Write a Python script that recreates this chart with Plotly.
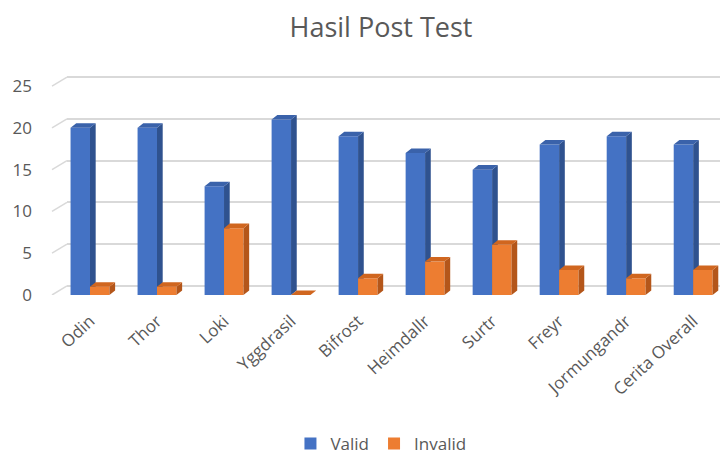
import plotly.graph_objects as go

categories = ["Odin", "Thor", "Loki", "Yggdrasil", "Bifrost", "Heimdallr",
              "Surtr", "Freyr", "Jormungandr", "Cerita Overall"]
valid = [20, 20, 13, 21, 19, 17, 15, 18, 19, 18]
invalid = [1, 1, 8, 0, 2, 4, 6, 3, 2, 3]
ytick_vals = [0, 5, 10, 15, 20, 25]

W = 0.29        # bar width in category units
DX = 0.085      # depth offset x (category units)
DY = 0.54       # depth offset y (value units)
SHIFT = 1.08    # back wall offset (value units)
YMAX = 26.92

idx = list(range(len(categories)))

fig = go.Figure()

fig.add_trace(go.Scatter(x=[0], y=[0], xaxis="x", yaxis="y", mode="markers",
                         marker=dict(opacity=0), showlegend=False, hoverinfo="skip"))


def faces(centers, vals):
    sx, sy, tx, ty = [], [], [], []
    for c, v in zip(centers, vals):
        xl, xr = c - W / 2, c + W / 2
        sx += [xr, xr + DX, xr + DX, xr, xr, None]
        sy += [0, DY, v + DY, v, 0, None]
        tx += [xl, xl + DX, xr + DX, xr, xl, None]
        ty += [v, v + DY, v + DY, v, v, None]
    return sx, sy, tx, ty


series = [
    ("Valid", valid, -W / 2, "#4472C4", "#2F528F", "#3A62AA", "y2"),
    ("Invalid", invalid, W / 2, "#ED7D31", "#B4561A", "#D0661F", "y3"),
]
for name, vals, off, cf, cs, ct, ya in series:
    centers = [i + off for i in idx]
    fig.add_trace(go.Bar(x=centers, y=vals, width=W, name=name,
                         marker=dict(color=cf, line=dict(width=0)),
                         xaxis="x", yaxis=ya))
    sx, sy, tx, ty = faces(centers, vals)
    fig.add_trace(go.Scatter(x=sx, y=sy, fill="toself", fillcolor=cs, mode="lines",
                             line=dict(width=0, color=cs), showlegend=False,
                             hoverinfo="skip", xaxis="x", yaxis=ya))
    fig.add_trace(go.Scatter(x=tx, y=ty, fill="toself", fillcolor=ct, mode="lines",
                             line=dict(width=0, color=ct), showlegend=False,
                             hoverinfo="skip", xaxis="x", yaxis=ya))

grey = "#595959"
shapes = []
for v in ytick_vals:
    shapes.append(dict(type="line", xref="paper", yref="y",
                       x0=-0.0227, y0=v - SHIFT, x1=0, y1=v,
                       line=dict(color="#D9D9D9", width=1.5)))

fig.update_layout(
    width=720, height=449,
    margin=dict(l=59, r=0, t=62, b=162),
    paper_bgcolor="white", plot_bgcolor="rgba(0,0,0,0)",
    font=dict(family="Open Sans", color=grey),
    title=dict(text="Hasil Post Test", font=dict(size=27, color=grey),
               xref="container", x=0.518, xanchor="center",
               yref="container", y=0.9566, yanchor="middle"),
    xaxis=dict(range=[-0.343, 9.52], tickmode="array", tickvals=idx,
               ticktext=categories, tickangle=-43, showgrid=False,
               zeroline=False, showline=False, ticks="", automargin=False,
               ticklabelstandoff=12,
               tickfont=dict(size=17, color=grey)),
    yaxis=dict(range=[-SHIFT, YMAX - SHIFT], tickvals=ytick_vals,
               showticklabels=False, showgrid=True, gridcolor="#D9D9D9",
               gridwidth=1.5, zeroline=False, showline=False, automargin=False),
    yaxis2=dict(range=[0, YMAX], overlaying="y", tickvals=ytick_vals,
                showgrid=False, zeroline=False, showline=False, automargin=False,
                tickfont=dict(size=17, color=grey), ticklabelstandoff=34),
    yaxis3=dict(range=[0, YMAX], overlaying="y", visible=False),
    showlegend=True,
    legend=dict(orientation="h", xref="container", x=0.518, xanchor="center",
                yref="container", y=0.029, yanchor="middle",
                font=dict(size=17, color=grey), itemwidth=30),
    shapes=shapes,
    barmode="overlay",
)

fig.write_html("out.html")
